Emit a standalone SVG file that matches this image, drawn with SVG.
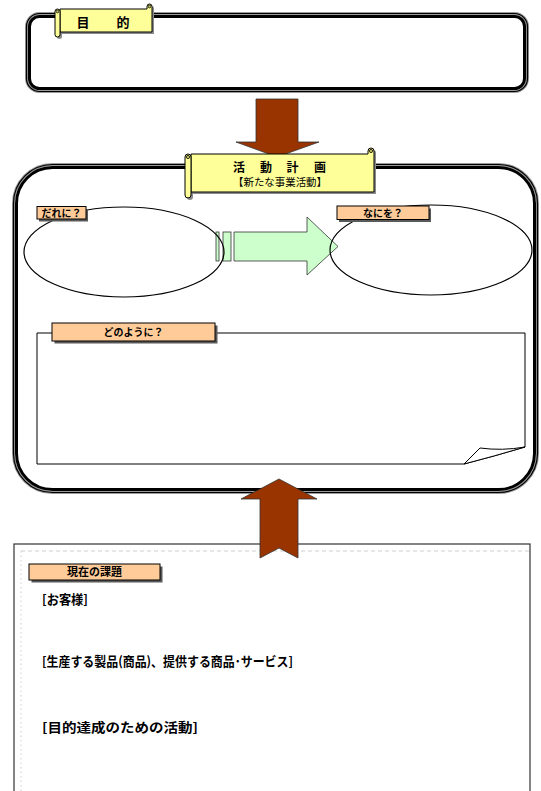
<svg xmlns="http://www.w3.org/2000/svg" width="541" height="791" viewBox="0 0 541 791">
<defs>
<style>
text{font-family:"Noto Sans CJK JP","Noto Sans",sans-serif;fill:#000}
.frame-halo{fill:none;stroke:#9a9a9a;stroke-width:3}
.frame-thin{fill:none;stroke:#000;stroke-width:1.2}
.frame-thick{fill:none;stroke:#000;stroke-width:3}
.scroll{fill:#ffff99;stroke:#000;stroke-width:1}
.scroll-sh{fill:#8a8a8a}
.curl{fill:#cccc66;stroke:#000;stroke-width:0.8}
.tag{fill:#ffcc99;stroke:#000;stroke-width:1}
.tag-sh{fill:#5a5a5a}
.lbl{font-size:10px;font-weight:bold;text-anchor:middle}
.big-arrow{fill:#993300;stroke:#333;stroke-width:0.8}
.flow{fill:#ccffcc;stroke:#333;stroke-width:0.8}
.oval{fill:none;stroke:#000;stroke-width:1.2}
.note{fill:#fff;stroke:#000;stroke-width:1}
.issue{font-size:13px;font-weight:bold}
</style>
</defs>
<rect width="541" height="791" fill="#fff"/>

<!-- purpose frame -->
<g id="purpose">
  <rect class="frame-halo" x="26.5" y="13.5" width="501" height="78" rx="13"/>
  <rect class="frame-thin" x="26.5" y="13.5" width="501" height="78" rx="13"/>
  <rect fill="#fff" x="29.5" y="16.5" width="495" height="72" rx="10"/>
  <rect class="frame-thick" x="29.5" y="16.5" width="495" height="72" rx="10"/>
</g>

<!-- purpose title scroll -->
<g id="purpose-title">
  <path class="scroll-sh" transform="translate(2,2)" d="M60,9 H147 V6.5 A2.5,2.5 0 0 1 152,6.5 V32 H60 Z M55,11.5 A2.5,2.5 0 0 1 60,11.5 V34.5 A2.5,2.5 0 0 1 55,34.5 Z"/>
  <path class="scroll" d="M60,9 H147 V6.5 A2.5,2.5 0 0 1 152,6.5 V32 H60 Z"/>
  <circle class="curl" cx="149.5" cy="6.5" r="1.3"/>
  <path class="scroll" d="M55,11.5 A2.5,2.5 0 0 1 60,11.5 V34.5 A2.5,2.5 0 0 1 55,34.5 Z"/>
  <circle class="curl" cx="57.5" cy="11.5" r="1.3"/>
  <text x="83" y="27" font-size="13" font-weight="bold" text-anchor="middle">目</text>
  <text x="123" y="27" font-size="13" font-weight="bold" text-anchor="middle">的</text>
</g>

<!-- plan frame -->
<g id="plan">
  <rect class="frame-halo" x="13.5" y="164.5" width="524" height="328" rx="39"/>
  <rect class="frame-thin" x="13.5" y="164.5" width="524" height="328" rx="39"/>
  <rect fill="#fff" x="16.5" y="167.5" width="518" height="322" rx="36"/>
  <rect class="frame-thick" x="16.5" y="167.5" width="518" height="322" rx="36"/>
</g>

<!-- current issues panel -->
<g id="issues">
  <rect x="14" y="544" width="516" height="260" fill="#fff" stroke="#333" stroke-width="1.2"/>
  <line x1="21" y1="551" x2="530" y2="551" stroke="#cfcfcf" stroke-width="1" stroke-dasharray="4,3"/>
  <line x1="21" y1="551" x2="21" y2="791" stroke="#cfcfcf" stroke-width="1" stroke-dasharray="1.5,3"/>
</g>

<g id="connectors">
  <!-- purpose -> plan -->
  <path class="big-arrow" d="M256,99 H298 V142 H319 L277,157 L236,142 H256 Z"/>
  <!-- issues -> plan -->
  <path class="big-arrow" d="M279,479 L317,499 H298 V558 L279,548 L260,558 V499 H241 Z"/>
  <!-- who -> what -->
  <rect class="flow" x="216" y="232" width="3" height="29"/>
  <rect class="flow" x="223" y="232" width="8" height="29"/>
  <path class="flow" d="M234,232 H307 V217 L338,246.5 L307,275 V261 H234 Z"/>
</g>

<!-- plan title scroll -->
<g id="plan-title">
  <path class="scroll-sh" transform="translate(2,2)" d="M191,154 H368 V151 A3,3 0 0 1 374,151 V192 H191 Z M185,157 A3,3 0 0 1 191,157 V195 A3,3 0 0 1 185,195 Z"/>
  <path class="scroll" d="M191,154 H368 V151 A3,3 0 0 1 374,151 V192 H191 Z"/>
  <circle class="curl" cx="371" cy="151" r="1.6"/>
  <path class="scroll" d="M185,157 A3,3 0 0 1 191,157 V195 A3,3 0 0 1 185,195 Z"/>
  <circle class="curl" cx="188" cy="157" r="1.6"/>
  <text x="239" y="172" font-size="12" font-weight="bold" text-anchor="middle">活</text>
  <text x="266" y="172" font-size="12" font-weight="bold" text-anchor="middle">動</text>
  <text x="292.5" y="172" font-size="12" font-weight="bold" text-anchor="middle">計</text>
  <text x="320" y="172" font-size="12" font-weight="bold" text-anchor="middle">画</text>
  <text x="233" y="186" font-size="10.5" textLength="94" lengthAdjust="spacingAndGlyphs">【新たな事業活動】</text>
</g>

<!-- who -->
<g id="who">
  <ellipse class="oval" cx="124" cy="252" rx="100" ry="45"/>
  <rect class="tag-sh" x="39" y="209" width="49" height="12.5"/>
  <rect class="tag" x="37" y="206.5" width="49" height="12.5"/>
  <text class="lbl" x="61.5" y="216.5">だれに？</text>
</g>

<!-- what -->
<g id="what">
  <ellipse class="oval" cx="431" cy="250" rx="101" ry="45"/>
  <rect class="tag-sh" x="339" y="208.5" width="92" height="13.5"/>
  <rect class="tag" x="337" y="206" width="92" height="13.5"/>
  <text class="lbl" x="383" y="216.5">なにを？</text>
</g>

<!-- how -->
<g id="how">
  <path class="note" d="M37,333 H525 V447 Q495,456 464,464 H37 Z"/>
  <path class="note" d="M464,464 L480,448 Q502,451 525,447 Q495,456 464,464 Z"/>
  <rect class="tag-sh" x="54.5" y="325.5" width="163" height="18"/>
  <rect class="tag" x="52" y="323" width="163" height="18"/>
  <text class="lbl" x="133.5" y="336">どのように？</text>
</g>

<!-- issues label and headings -->
<g id="issues-title">
  <rect class="tag-sh" x="31.5" y="566.5" width="131" height="16"/>
  <rect class="tag" x="29" y="564" width="131" height="16"/>
  <text x="94.5" y="576" font-size="11" font-weight="bold" text-anchor="middle">現在の課題</text>
</g>
<g id="issue-customers">
  <text class="issue" x="42" y="604" textLength="46" lengthAdjust="spacingAndGlyphs">[お客様]</text>
</g>
<g id="issue-products">
  <text class="issue" x="42" y="666" textLength="251" lengthAdjust="spacingAndGlyphs">[生産する製品(商品)、提供する商品･サービス]</text>
</g>
<g id="issue-activities">
  <text class="issue" x="42" y="732" textLength="156" lengthAdjust="spacingAndGlyphs">[目的達成のための活動]</text>
</g>
</svg>
